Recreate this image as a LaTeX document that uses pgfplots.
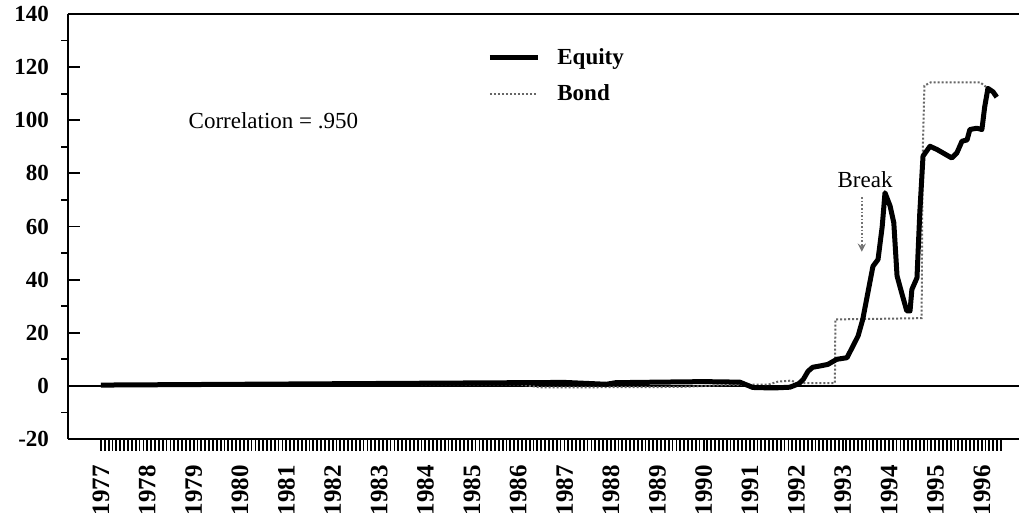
\documentclass[border=0pt]{standalone}
\usepackage{fontspec}
\setmainfont{Liberation Serif}
\usepackage{pgfplots}
\pgfplotsset{compat=1.18}
\newcommand{\lbl}{\fontsize{11.5}{12}\selectfont}
\begin{document}
\begin{tikzpicture}
\pgfplotsset{
 common/.style={
  at={(0,0)}, anchor=south west, scale only axis,
  width=475.5pt, height=212.5pt,
  xmin=1976.29, xmax=1996.8, ymin=-20, ymax=140,
  tick style={black, line width=0.9pt},
  axis line style={line width=1pt},
 }
}
% main axis: x ticks, data, legend
\begin{axis}[common, axis x line*=bottom, axis y line=none, tick align=outside,
 xtick={1977,1978,...,1996},
 xticklabels={1977,1978,1979,1980,1981,1982,1983,1984,1985,1986,1987,1988,1989,1990,1991,1992,1993,1994,1995,1996},
 minor xtick={1977,1977.083333,...,1996.42},
 major tick length=6pt, minor tick length=6pt,
 xticklabel style={rotate=90, anchor=east, font=\bfseries\fontsize{12.5}{13}\selectfont},
 xticklabel shift=3.5pt,
 clip=false,
 legend image code/.code={\draw[#1] (0pt,0pt) -- (24pt,0pt);},
 legend cell align=left,
 reverse legend,
 legend style={draw=none, fill=none, at={(0.4406,0.855)}, anchor=west, inner sep=0pt,
   row sep=4.5pt, column sep=6.5pt, font=\bfseries\lbl},
]
\addplot[black, line width=1pt, forget plot] coordinates {(1976.29,0) (1996.8,0)};
\addplot[black!60, densely dotted, line width=1pt] coordinates {
(1977,0.2) (1980,0.4) (1983,0.6) (1986,0.6) (1986.5,-0.6) (1988,-0.5) (1989.5,-0.4)
(1990.5,0.3) (1991.4,0.5) (1991.6,1.6) (1991.9,2.0) (1992.0,1.0) (1992.83,1.0)
(1992.84,25.0) (1993.5,25.2) (1994.0,25.3) (1994.70,25.5) (1994.72,85) (1994.76,113)
(1994.9,114.3) (1995.96,114.3) (1996.13,112) (1996.25,110)};
\addplot[black, line width=2.5pt, line join=round] coordinates {
(1977.0,0.3) (1978,0.4) (1979,0.5) (1980,0.6) (1981,0.7) (1982,0.8) (1983,0.9) (1984,1.0)
(1985,1.1) (1986,1.2) (1987,1.3) (1987.9,0.6) (1988.1,1.2) (1989,1.4) (1990,1.6)
(1990.78,1.4) (1991.06,-0.6) (1991.5,-0.8) (1991.86,-0.5) (1992.05,0.8) (1992.15,2.5)
(1992.25,5.5) (1992.35,7.0) (1992.51,7.5) (1992.68,8.1) (1992.87,10.0) (1993.09,10.6)
(1993.22,15.0) (1993.33,18.8) (1993.43,25.0) (1993.54,35.0) (1993.65,45.0) (1993.76,47.6)
(1993.85,60.0) (1993.91,72.7) (1994.02,67.7) (1994.10,61.4) (1994.17,41.4) (1994.27,35.0)
(1994.38,28.2) (1994.45,28.2) (1994.49,36.3) (1994.60,40.7) (1994.66,65.0) (1994.73,86.5)
(1994.88,90.2) (1995.03,89.0) (1995.16,87.7) (1995.35,85.8) (1995.46,87.7) (1995.57,92.1)
(1995.68,92.6) (1995.74,96.5) (1995.89,97.0) (1996.00,96.5) (1996.06,105.0) (1996.13,112.0)
(1996.24,110.7) (1996.32,108.7)};
\legend{Bond,Equity}
\node[anchor=west, font=\lbl] at (axis cs:1978.74,100) {Correlation = .950};
\node[font=\lbl] at (axis cs:1993.48,77.5) {Break};
\draw[-stealth, densely dotted, black!55, line width=0.8pt] (axis cs:1993.41,71) -- (axis cs:1993.41,50.5);
\end{axis}
% y axis: major ticks inside with labels
\begin{axis}[common, hide x axis, axis y line*=left, tick align=inside,
 ytick={-20,0,...,140}, yticklabels={-20,0,20,40,60,80,100,120,140},
 major tick length=6pt,
 yticklabel style={font=\bfseries\lbl, xshift=-6pt},
]
\end{axis}
% y axis: intermediate ticks outside
\begin{axis}[common, hide x axis, axis y line*=left, tick align=outside,
 ytick={-10,10,...,130}, yticklabel=\empty,
 major tick length=3.5pt,
]
\end{axis}
\draw[line width=1pt] (0pt,212.5pt) -- (475.5pt,212.5pt);
\pgfresetboundingbox
\useasboundingbox (-34pt,-37.5pt) rectangle (475.5pt,219.5pt);
\end{tikzpicture}
\end{document}
